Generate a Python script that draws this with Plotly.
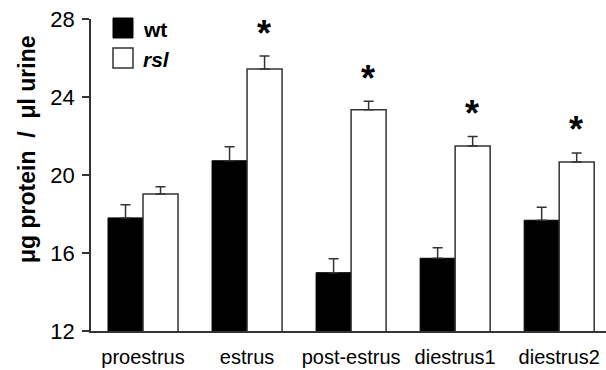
import plotly.graph_objects as go

categories = ["proestrus", "estrus", "post-estrus", "diestrus1", "diestrus2"]
wt_values = [17.8, 20.73, 14.99, 15.73, 17.68]
wt_err = [0.68, 0.72, 0.72, 0.54, 0.66]
rsl_values = [19.03, 25.44, 23.35, 21.49, 20.67]
rsl_err = [0.37, 0.66, 0.43, 0.49, 0.46]
significant = [False, True, True, True, True]
y_ticks = [12, 16, 20, 24, 28]

FONT = "Liberation Sans, Arial, Helvetica, sans-serif"
EDGE = "#333333"

fig = go.Figure()
fig.add_trace(go.Bar(
    x=categories, y=wt_values, name="wt",
    marker=dict(color="black", line=dict(color="black", width=1)),
    error_y=dict(type="data", array=wt_err, arrayminus=[0]*len(wt_err), symmetric=False,
                 color=EDGE, thickness=1.5, width=5),
    showlegend=False,
))
fig.add_trace(go.Bar(
    x=categories, y=rsl_values, name="rsl",
    marker=dict(color="white", line=dict(color=EDGE, width=1.5)),
    error_y=dict(type="data", array=rsl_err, arrayminus=[0]*len(rsl_err), symmetric=False,
                 color=EDGE, thickness=1.5, width=5),
    showlegend=False,
))

for i, (c, v, e, s) in enumerate(zip(categories, rsl_values, rsl_err, significant)):
    if s:
        fig.add_annotation(x=i, xshift=17, y=v + e, yshift=23, text="<b>*</b>",
                           showarrow=False, font=dict(size=36, family=FONT, color="black"),
                           xref="x", yref="y")

# legend drawn manually
fig.add_shape(type="rect", xref="paper", yref="paper",
              x0=(113-91)/515, x1=(133-91)/515, y0=(331-38)/312, y1=(331-18)/312,
              fillcolor="black", line=dict(color="black", width=1))
fig.add_shape(type="rect", xref="paper", yref="paper",
              x0=(113-91)/515, x1=(133-91)/515, y0=(331-68)/312, y1=(331-48)/312,
              fillcolor="white", line=dict(color=EDGE, width=1.5))
fig.add_annotation(xref="paper", yref="paper", x=(141-91)/515, y=(331-29)/312,
                   text="<b>wt</b>", showarrow=False, xanchor="left", yanchor="middle",
                   font=dict(size=21, family=FONT, color="black"))
fig.add_annotation(xref="paper", yref="paper", x=(141-91)/515, y=(331-59)/312,
                   text="<b><i>rsl</i></b>", showarrow=False, xanchor="left", yanchor="middle",
                   font=dict(size=21, family=FONT, color="black"))

# y-axis title
fig.add_annotation(xref="paper", yref="paper", x=-(91-27)/515, y=(331-150)/312,
                   text="<b>\u03bcg protein\u00a0\u00a0/\u00a0\u00a0\u03bcl urine</b>",
                   textangle=-90, showarrow=False, xanchor="center", yanchor="middle",
                   font=dict(size=23, family=FONT, color="black"))

fig.update_layout(
    width=606, height=370,
    margin=dict(l=91, r=0, t=19, b=39, autoexpand=False),
    paper_bgcolor="white", plot_bgcolor="white",
    barmode="group", bargap=0.327, bargroupgap=0,
    font=dict(family=FONT, color="black"),
)
fig.update_xaxes(
    range=[-0.5, 4.45], showline=True, linecolor=EDGE, linewidth=1.5,
    ticks="", tickfont=dict(size=20, family=FONT, color="black"),
    ticklabelstandoff=7,
    showgrid=False, zeroline=False,
)
fig.update_yaxes(
    range=[12, 28], tickvals=y_ticks, showline=True, linecolor=EDGE, linewidth=1.5,
    ticks="outside", ticklen=7, tickcolor=EDGE, tickwidth=1.5,
    tickfont=dict(size=22, family=FONT, color="black"),
    ticklabelstandoff=3,
    showgrid=False, zeroline=False,
)

fig.write_html("out.html")
